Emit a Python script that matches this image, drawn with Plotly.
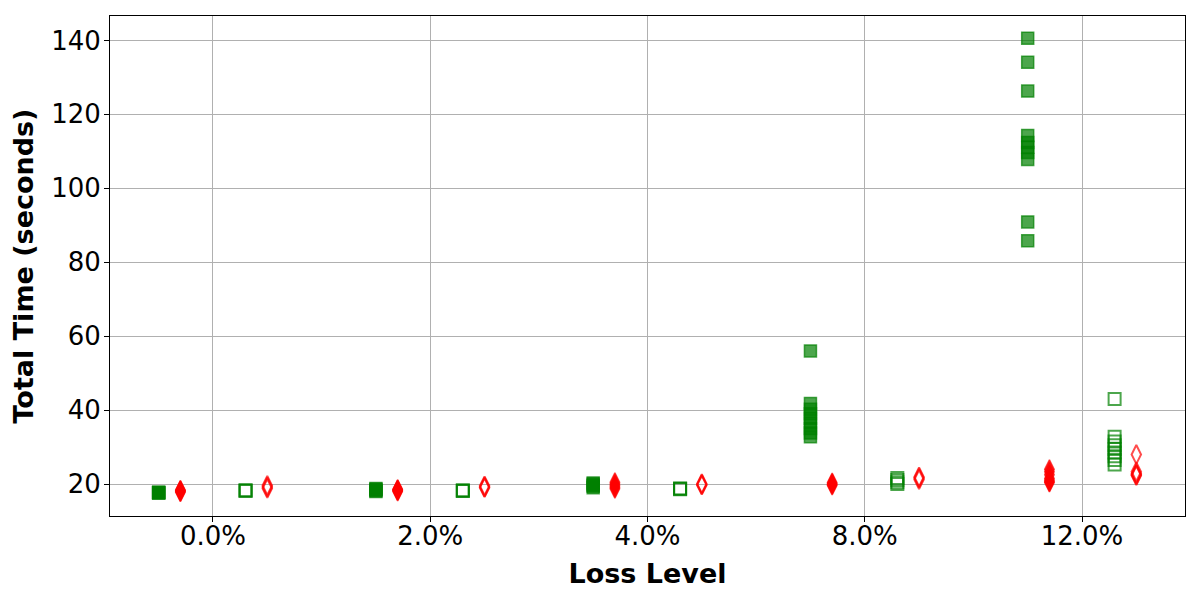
import plotly.graph_objects as go

loss_levels = ['0.0%', '2.0%', '4.0%', '8.0%', '12.0%']

# total time (seconds) per run, one list per loss level
green_filled = [
    [17.6, 17.7, 17.7, 17.8, 17.6],
    [18.0, 18.2, 18.4, 18.6, 18.8],
    [19.0, 19.4, 19.7, 20.0, 20.3],
    [56.0, 41.8, 40.2, 39.0, 37.8, 36.5, 35.0, 33.8, 32.8],
    [140.6, 134.1, 126.3, 114.3, 112.4, 111.1, 109.7, 107.8, 90.9, 85.8],
]
red_filled = [
    [17.8, 18.0, 18.1, 18.3, 18.4],
    [18.0, 18.2, 18.3, 18.5, 18.6],
    [18.7, 19.1, 19.5, 20.0, 20.5],
    [19.6, 19.9, 20.1, 20.4],
    [20.4, 20.6, 21.0, 21.5, 22.5, 23.3, 24.0],
]
green_open = [
    [18.2, 18.2, 18.3],
    [18.1, 18.2, 18.3],
    [18.6, 18.7, 18.8],
    [20.0, 20.5, 21.1, 21.6],
    [43.0, 32.8, 31.5, 30.5, 29.5, 28.5, 27.5, 26.5, 25.3],
]
red_open = [
    [18.8, 19.2, 19.6],
    [19.0, 19.2, 19.5],
    [19.7, 19.9, 20.1],
    [21.2, 21.6, 21.9],
    [28.0, 23.3, 22.8, 22.5, 22.3],
]

GREEN = 'rgba(0,128,0,0.7)'
RED = 'rgba(255,0,0,0.7)'


def make_trace(values, offset, symbol, color, size, line_width):
    xs, ys = [], []
    for i, group in enumerate(values):
        xs += [i + offset] * len(group)
        ys += group
    return go.Scatter(
        x=xs,
        y=ys,
        mode='markers',
        showlegend=False,
        marker=dict(
            symbol=symbol,
            size=size,
            color=color,
            line=dict(color=color, width=line_width),
        ),
    )


fig = go.Figure()
fig.add_trace(make_trace(green_filled, -0.25, 'square', GREEN, 12, 1.5))
fig.add_trace(make_trace(red_filled, -0.15, 'diamond-tall', RED, 13.5, 1.5))
fig.add_trace(make_trace(green_open, 0.15, 'square-open', GREEN, 12, 2))
fig.add_trace(make_trace(red_open, 0.25, 'diamond-tall-open', RED, 13.5, 2))

axis_common = dict(
    showline=True,
    linecolor='black',
    linewidth=1,
    mirror=True,
    showgrid=True,
    gridcolor='#b0b0b0',
    gridwidth=1,
    zeroline=False,
    ticks='outside',
    ticklen=5,
    tickcolor='black',
    tickfont=dict(family='DejaVu Sans', size=26, color='black'),
)

# page body has an 8px margin, so the figure is 8px smaller and shifted
fig.update_layout(
    width=1192,
    height=592,
    margin=dict(l=102, r=15, t=8, b=84),
    plot_bgcolor='white',
    paper_bgcolor='white',
    xaxis=dict(
        range=[-0.474, 4.474],
        tickmode='array',
        tickvals=list(range(len(loss_levels))),
        ticktext=loss_levels,
        ticklabelstandoff=-8,
        title=dict(
            text='<b>Loss Level</b>',
            font=dict(family='DejaVu Sans', size=27, color='black'),
            standoff=13,
        ),
        **axis_common,
    ),
    yaxis=dict(
        range=[11.35, 146.6],
        tickmode='array',
        tickvals=[20, 40, 60, 80, 100, 120, 140],
        ticklabelstandoff=-2,
        title=dict(
            text='<b>Total Time (seconds)</b>',
            font=dict(family='DejaVu Sans', size=27, color='black'),
            standoff=10,
        ),
        **axis_common,
    ),
)

fig.write_html('out.html')
